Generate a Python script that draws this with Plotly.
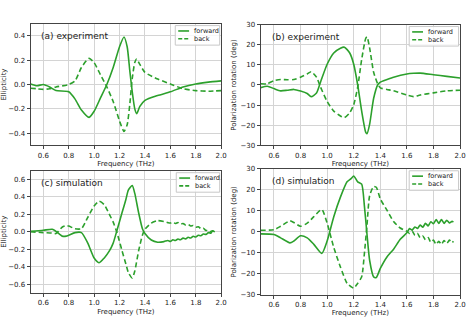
import plotly.graph_objects as go

GREEN = "#2ca02c"
W, H = 474, 325

# ---- (a) experiment: ellipticity ----
fa = [0.5, 0.55, 0.6, 0.65, 0.7, 0.8, 0.85, 0.9, 0.96, 1.0, 1.05, 1.1, 1.15, 1.2, 1.235,
      1.26, 1.28, 1.3, 1.32, 1.335, 1.36, 1.4, 1.5, 1.6, 1.7, 1.8, 1.9, 2.0]
a_fwd = [0.005, -0.01, 0.0, -0.02, -0.05, -0.06, -0.12, -0.21, -0.27, -0.22, -0.11, 0.0, 0.14,
         0.31, 0.39, 0.31, 0.12, -0.06, -0.2, -0.24, -0.18, -0.13, -0.09, -0.06, -0.02, 0.005,
         0.02, 0.03]
a_back = [-0.03, -0.035, -0.04, -0.035, -0.02, 0.0, 0.03, 0.14, 0.215, 0.18, 0.08, -0.02, -0.14,
          -0.3, -0.385, -0.33, -0.17, 0.05, 0.18, 0.21, 0.165, 0.1, 0.045, 0.005, -0.035, -0.05,
          -0.055, -0.05]

# ---- (b) experiment: polarization rotation ----
fb = [0.5, 0.55, 0.6, 0.65, 0.7, 0.75, 0.8, 0.85, 0.88, 0.92, 0.95, 1.0, 1.05, 1.1, 1.13,
      1.17, 1.2, 1.23, 1.26, 1.29, 1.3, 1.32, 1.35, 1.38, 1.4, 1.45, 1.5, 1.6, 1.65, 1.7,
      1.8, 1.9, 2.0]
b_fwd = [-1.3, -0.6, -1.8, -2.9, -2.6, -2.2, -3.0, -4.2, -5.8, -4.0, 1.4, 10.3, 15.9, 18.3,
         18.8, 15.9, 10.3, 0.0, -13.0, -23.4, -24.2, -19.4, -6.6, 0.0, 1.4, 2.7, 3.9, 5.5, 5.8,
         5.9, 5.1, 4.3, 3.5]
b_back = [0.6, 0.6, 2.2, 2.7, 2.6, 2.7, 3.9, 5.5, 6.6, 3.9, -1.0, -8.2, -13.0, -15.4, -16.2,
          -13.8, -9.8, -1.0, 12.7, 23.1, 23.9, 18.3, 6.3, 0.6, -1.4, -2.2, -2.9, -5.0, -5.8,
          -5.0, -3.9, -2.9, -2.6]

# ---- (c) simulation: ellipticity ----
fc = [0.5, 0.6, 0.67, 0.7, 0.75, 0.78, 0.8, 0.85, 0.9, 0.95, 1.0, 1.04, 1.08, 1.12, 1.15,
      1.18, 1.22, 1.25, 1.27, 1.3, 1.32, 1.35, 1.38, 1.4, 1.45, 1.5, 1.55, 1.58, 1.6, 1.62,
      1.64, 1.66, 1.68, 1.7, 1.72, 1.74, 1.76, 1.78, 1.8, 1.82, 1.84, 1.86, 1.88, 1.9, 1.92,
      1.93, 1.95]
c_fwd = [0.005, 0.017, 0.028, 0.005, -0.05, -0.05, -0.04, -0.01, -0.01, -0.13, -0.3, -0.355,
         -0.3, -0.22, -0.13, 0.017, 0.22, 0.37, 0.48, 0.53, 0.44, 0.22, 0.035, -0.02, -0.095,
         -0.12, -0.113, -0.1, -0.11, -0.092, -0.1, -0.083, -0.092, -0.073, -0.082, -0.063,
         -0.072, -0.052, -0.06, -0.04, -0.046, -0.026, -0.03, -0.01, -0.015, 0.008, 0.0]
c_back = [0.0, -0.01, -0.015, -0.02, 0.055, 0.07, 0.065, 0.035, 0.035, 0.165, 0.295, 0.35,
          0.31, 0.2, 0.11, -0.01, -0.22, -0.37, -0.47, -0.53, -0.45, -0.22, -0.04, 0.028, 0.1,
          0.128, 0.117, 0.105, 0.1, 0.11, 0.095, 0.105, 0.088, 0.095, 0.078, 0.085, 0.066,
          0.072, 0.052, 0.058, 0.036, 0.04, 0.015, 0.02, 0.0, 0.012, 0.0]

# ---- (d) simulation: polarization rotation ----
fd = [0.5, 0.6, 0.65, 0.72, 0.75, 0.8, 0.85, 0.9, 0.96, 1.0, 1.05, 1.1, 1.15, 1.18, 1.2,
      1.23, 1.26, 1.28, 1.3, 1.32, 1.35, 1.37, 1.4, 1.45, 1.5, 1.55, 1.6, 1.62, 1.64, 1.66,
      1.68, 1.7, 1.72, 1.74, 1.76, 1.78, 1.8, 1.82, 1.84, 1.86, 1.88, 1.9, 1.92, 1.94, 1.95]
d_fwd = [-1.0, -1.3, -2.9, -5.3, -4.4, -1.9, -2.9, -6.0, -10.3, -4.4, 7.2, 16.5, 23.8, 25.3,
         26.6, 23.8, 22.7, 12.6, -1.3, -13.7, -21.5, -21.8, -17.5, -12.0, -8.3, -3.6, -0.5,
         1.5, 0.8, 2.3, 1.6, 3.2, 2.2, 4.0, 2.8, 4.8, 3.8, 5.8, 4.0, 5.8, 4.0, 5.5, 4.2, 5.0,
         4.6]
d_back = [0.7, 1.0, 2.6, 5.2, 4.4, 2.6, 4.1, 7.2, 10.6, 4.1, -7.5, -16.8, -24.6, -26.2,
          -26.9, -24.6, -21.5, -10.6, 3.3, 17.3, 21.6, 21.2, 15.7, 10.3, 4.9, 1.8, 0.2, -0.8,
          0.3, -1.7, -0.8, -2.8, -2.0, -3.8, -2.8, -5.0, -4.0, -6.0, -4.5, -6.0, -4.2, -5.6,
          -4.0, -5.2, -4.5]

x_ticks = [0.6, 0.8, 1.0, 1.2, 1.4, 1.6, 1.8, 2.0]
series_names = ["forward", "back"]

panels = [
    # freq, forward, back, y-range, y-ticks, title, label, x-domain, y-domain
    (fa, a_fwd, a_back, [-0.5, 0.5], [-0.4, -0.2, 0.0, 0.2, 0.4], "Ellipticity",
     "(a) experiment", [0.0654, 0.4726], [0.554, 0.938]),
    (fb, b_fwd, b_back, [-30, 30], [-30, -20, -10, 0, 10, 20, 30],
     "Polarization rotation (deg)", "(b) experiment", [0.557, 0.983], [0.554, 0.935]),
    (fc, c_fwd, c_back, [-0.7, 0.7], [-0.6, -0.4, -0.2, 0.0, 0.2, 0.4, 0.6], "Ellipticity",
     "(c) simulation", [0.0654, 0.4726], [0.089, 0.474]),
    (fd, d_fwd, d_back, [-30, 30], [-30, -20, -10, 0, 10, 20, 30],
     "Polarization rotation (deg)", "(d) simulation", [0.557, 0.983], [0.083, 0.48]),
]

# compact legend box size (pixels) for each panel
legend_w = [45, 50, 44, 50]

FONT = "DejaVu Sans"
fig = go.Figure()
layout = dict(
    width=W, height=H, margin=dict(l=0, r=0, t=0, b=0),
    paper_bgcolor="white", plot_bgcolor="white",
    font=dict(family=FONT, size=7, color="#222"),
    annotations=[], shapes=[], showlegend=False,
)


def px(x):
    return x / W


def py(y):
    return 1 - y / H


for i, (f, fw, bk, yr, yt, ytitle, label, xd, yd) in enumerate(panels, start=1):
    sfx = "" if i == 1 else str(i)
    line_styles = [dict(color=GREEN, width=1.6, shape="spline", smoothing=0.6),
                   dict(color=GREEN, width=1.6, dash="5px,3px", shape="spline", smoothing=0.6)]
    for name, vals, ls in zip(series_names, [fw, bk], line_styles):
        fig.add_trace(go.Scatter(x=f, y=vals, mode="lines", name=name, line=ls,
                                 xaxis=f"x{sfx}", yaxis=f"y{sfx}"))

    axis_common = dict(showline=True, mirror=True, linecolor="#444", linewidth=1,
                       showgrid=True, gridcolor="#d4d4d4", gridwidth=1, zeroline=False,
                       ticks="outside", ticklen=3, tickcolor="#444",
                       tickfont=dict(size=7, family=FONT, color="#222"))
    layout[f"xaxis{sfx}"] = dict(axis_common, domain=xd, range=[0.5, 2.0], tickvals=x_ticks,
                                 ticktext=[f"{v:.1f}" for v in x_ticks],
                                 anchor=f"y{sfx}",
                                 title=dict(text="Frequency (THz)", standoff=2,
                                            font=dict(size=7, family=FONT)))
    if abs(yr[1]) < 1:
        ytext = ["\u2212" + f"{abs(v):.1f}" if v < 0 else f"{v:.1f}" for v in yt]
    else:
        ytext = ["\u2212" + f"{abs(v)}" if v < 0 else f"{v}" for v in yt]
    layout[f"yaxis{sfx}"] = dict(axis_common, domain=yd, range=yr, tickvals=yt,
                                 ticktext=ytext, anchor=f"x{sfx}",
                                 title=dict(text=ytitle, standoff=3,
                                            font=dict(size=7, family=FONT)))
    layout["annotations"].append(dict(
        text=label, xref=f"x{sfx} domain", yref=f"y{sfx} domain", x=0.045, y=0.9,
        xanchor="left", yanchor="middle", showarrow=False,
        font=dict(size=9, family=FONT, color="#222")))

    # compact legend in the upper-right corner of the panel
    right = xd[1] * W - 1.5
    top = (1 - yd[1]) * H + 2
    left = right - legend_w[i - 1]
    layout["shapes"].append(dict(type="rect", xref="paper", yref="paper",
                                 x0=px(left), x1=px(right), y0=py(top), y1=py(top + 20),
                                 line=dict(color="#c8c8c8", width=1),
                                 fillcolor="rgba(255,255,255,0.8)", layer="above"))
    for k, (name, ls) in enumerate(zip(series_names, line_styles)):
        row_y = top + 5.5 + k * 8
        layout["shapes"].append(dict(type="line", xref="paper", yref="paper",
                                     x0=px(left + 3), x1=px(left + 14),
                                     y0=py(row_y), y1=py(row_y),
                                     line=dict(color=GREEN, width=1.6,
                                               dash="4px,2px" if k else "solid"),
                                     layer="above"))
        layout["annotations"].append(dict(
            text=name, xref="paper", yref="paper", x=px(left + 17), y=py(row_y),
            xanchor="left", yanchor="middle", showarrow=False,
            font=dict(size=6.5, family=FONT, color="#222")))

fig.update_layout(**layout)
fig.write_html("out.html")
